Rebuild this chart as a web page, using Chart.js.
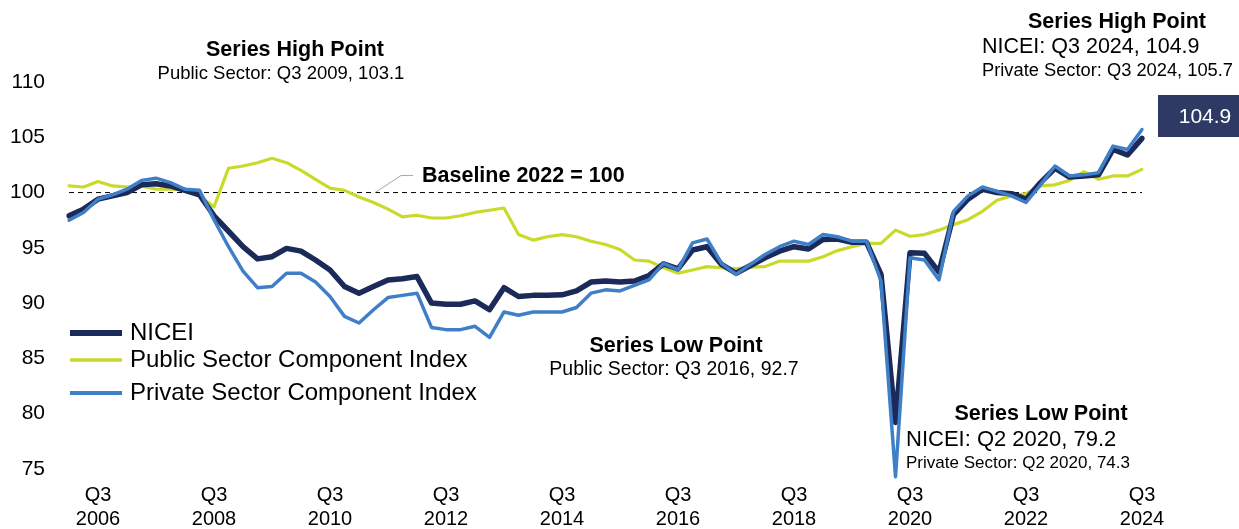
<!DOCTYPE html>
<html>
<head>
<meta charset="utf-8">
<script src="https://cdn.jsdelivr.net/npm/chart.js@4"></script>
<style>
  body { margin: 0; background: #fff; }
  #wrap { width: 1239px; height: 529px; }
</style>
</head>
<body>
<div id="wrap"><canvas id="myChart" width="1239" height="529"></canvas></div>
<script>
// quarters Q1 2006 .. Q3 2024
var quarters = [];
for (var yr = 2006; yr <= 2024; yr++) {
  for (var q = 1; q <= 4; q++) {
    if (yr == 2024 && q > 3) break;
    quarters.push("Q" + q + " " + yr);
  }
}

var nicei = [97.9, 98.5, 99.4, 99.7, 100.0, 100.7, 100.8, 100.6, 100.2, 99.8,
  97.9, 96.5, 95.1, 94.0, 94.2, 94.95, 94.7, 93.9, 93.0, 91.5,
  90.9, 91.5, 92.1, 92.2, 92.4, 90.0, 89.9, 89.9, 90.2, 89.4,
  91.4, 90.6, 90.7, 90.7, 90.75, 91.1, 91.9, 92.0, 91.9, 92.0,
  92.5, 93.55, 93.1, 94.8, 95.1, 93.5, 92.7, 93.4, 94.1, 94.7,
  95.1, 94.9, 95.75, 95.8, 95.5, 95.5, 92.6, 79.2, 94.55, 94.5,
  92.8, 98.0, 99.4, 100.3, 100.0, 99.9, 99.4, 100.9, 102.2, 101.4,
  101.5, 101.6, 103.9, 103.4, 104.9];

var publicSector = [100.6, 100.5, 101.0, 100.6, 100.5, 100.6, 100.3, 100.3, 100.25, 99.7,
  98.7, 102.2, 102.4, 102.7, 103.1, 102.7, 102.0, 101.2, 100.4, 100.2,
  99.6, 99.1, 98.5, 97.8, 97.95, 97.7, 97.7, 97.9, 98.2, 98.4,
  98.6, 96.2, 95.7, 96.0, 96.2, 96.0, 95.6, 95.3, 94.85, 93.9,
  93.8, 93.2, 92.7, 93.0, 93.3, 93.2, 93.1, 93.25, 93.3, 93.8,
  93.8, 93.8, 94.2, 94.75, 95.1, 95.4, 95.4, 96.6, 96.05, 96.2,
  96.6, 97.1, 97.55, 98.3, 99.3, 99.7, 99.9, 100.6, 100.7, 101.1,
  101.9, 101.2, 101.5, 101.5, 102.1];

var privateSector = [97.5, 98.2, 99.4, 99.8, 100.3, 101.1, 101.3, 100.9, 100.3, 100.2,
  97.55, 95.1, 92.9, 91.4, 91.5, 92.7, 92.7, 91.9, 90.6, 88.8,
  88.2, 89.4, 90.5, 90.7, 90.9, 87.8, 87.6, 87.6, 87.9, 86.9,
  89.2, 88.9, 89.2, 89.2, 89.2, 89.6, 90.9, 91.2, 91.1, 91.6,
  92.1, 93.6, 93.0, 95.45, 95.8, 93.6, 92.6, 93.5, 94.4, 95.1,
  95.6, 95.3, 96.2, 96.0, 95.6, 95.6, 92.0, 74.3, 94.1, 93.9,
  92.1, 98.3, 99.7, 100.5, 100.1, 99.7, 99.1, 100.7, 102.4, 101.5,
  101.6, 101.8, 104.2, 103.9, 105.7];

var yTicks = [75, 80, 85, 90, 95, 100, 105, 110];
var baseline = 100;
var latestValue = "104.9";

var seriesNames = ["NICEI", "Public Sector Component Index", "Private Sector Component Index"];
var seriesColors = ["#1c2a5a", "#c9da2a", "#3f7fc8"];
var seriesWidths = [5.5, 3.2, 3.5];

var FONT = "'Liberation Sans', Arial, sans-serif";

// dashed baseline + leader label
var baselinePlugin = {
  id: "baselineLine",
  beforeDatasetsDraw: function(chart) {
    var ctx = chart.ctx, area = chart.chartArea;
    var y = chart.scales.y.getPixelForValue(baseline);
    ctx.save();
    ctx.strokeStyle = "#000";
    ctx.lineWidth = 1;
    ctx.setLineDash([5, 4]);
    ctx.beginPath();
    ctx.moveTo(area.left, y);
    ctx.lineTo(area.right, y);
    ctx.stroke();
    ctx.setLineDash([]);
    ctx.strokeStyle = "#a6a6a6";
    ctx.beginPath();
    ctx.moveTo(375, y);
    ctx.lineTo(401, y - 17);
    ctx.lineTo(413, y - 17);
    ctx.stroke();
    ctx.restore();
  }
};

// notes, legend and value box
var notesPlugin = {
  id: "notes",
  afterDraw: function(chart) {
    var ctx = chart.ctx;
    ctx.save();
    ctx.textBaseline = "middle";
    ctx.fillStyle = "#000";

    function txt(s, x, y, size, bold, align) {
      ctx.font = (bold ? "bold " : "") + size + "px " + FONT;
      ctx.textAlign = align || "left";
      ctx.fillText(s, x, y);
    }

    txt("Baseline 2022 = 100", 422, 176, 21.5, true);

    txt("Series High Point", 295, 50, 21.5, true, "center");
    txt("Public Sector: Q3 2009, 103.1", 281, 74, 18.5, false, "center");

    txt("Series High Point", 1117, 22, 21.5, true, "center");
    txt("NICEI: Q3 2024, 104.9", 982, 47, 21.5, false);
    txt("Private Sector: Q3 2024, 105.7", 982, 71, 18.3, false);

    txt("Series Low Point", 676, 346, 21.5, true, "center");
    txt("Public Sector: Q3 2016, 92.7", 674, 370, 19.5, false, "center");

    txt("Series Low Point", 1041, 414, 21.5, true, "center");
    txt("NICEI: Q2 2020, 79.2", 906, 440, 22, false);
    txt("Private Sector: Q2 2020, 74.3", 906, 463, 17, false);

    // legend
    var legY = [333, 360, 393];
    for (var i = 0; i < seriesNames.length; i++) {
      ctx.strokeStyle = seriesColors[i];
      ctx.lineWidth = seriesWidths[i] + 0.5;
      ctx.beginPath();
      ctx.moveTo(70, legY[i]);
      ctx.lineTo(122, legY[i]);
      ctx.stroke();
      ctx.fillStyle = "#000";
      txt(seriesNames[i], 130, legY[i], 24, false);
    }

    // latest value box
    ctx.fillStyle = "#2e3a64";
    ctx.fillRect(1158, 95, 81, 42);
    ctx.fillStyle = "#fff";
    txt(latestValue, 1205, 117, 21, false, "center");
    ctx.restore();
  }
};

new Chart("myChart", {
  type: "line",
  data: {
    labels: quarters,
    datasets: [
      { label: seriesNames[1], data: publicSector, borderColor: seriesColors[1], borderWidth: seriesWidths[1], order: 2 },
      { label: seriesNames[0], data: nicei, borderColor: seriesColors[0], borderWidth: seriesWidths[0], order: 1 },
      { label: seriesNames[2], data: privateSector, borderColor: seriesColors[2], borderWidth: seriesWidths[2], order: 0 }
    ]
  },
  options: {
    responsive: false,
    animation: false,
    layout: { padding: { top: 82, right: 97, left: 0, bottom: 0 } },
    elements: {
      point: { radius: 0 },
      line: { tension: 0, borderJoinStyle: "round", borderCapStyle: "round", fill: false }
    },
    plugins: {
      legend: { display: false },
      tooltip: { enabled: false }
    },
    scales: {
      x: {
        grid: { display: false, drawTicks: false },
        border: { display: false },
        afterFit: function(s) { s.height = 49; },
        ticks: {
          autoSkip: false,
          maxRotation: 0,
          padding: 3,
          color: "#000",
          font: { family: FONT, size: 20 },
          callback: function(val, idx) {
            if (idx % 8 != 2) return null;
            return quarters[idx].split(" ");
          }
        }
      },
      y: {
        min: 74,
        max: 110,
        grid: { display: false, drawTicks: false },
        border: { display: false },
        afterFit: function(s) { s.width = 69; },
        afterBuildTicks: function(s) {
          s.ticks = yTicks.map(function(v) { return { value: v }; });
        },
        ticks: {
          padding: 24,
          color: "#000",
          font: { family: FONT, size: 21 }
        }
      }
    }
  },
  plugins: [baselinePlugin, notesPlugin]
});
</script>
</body>
</html>
